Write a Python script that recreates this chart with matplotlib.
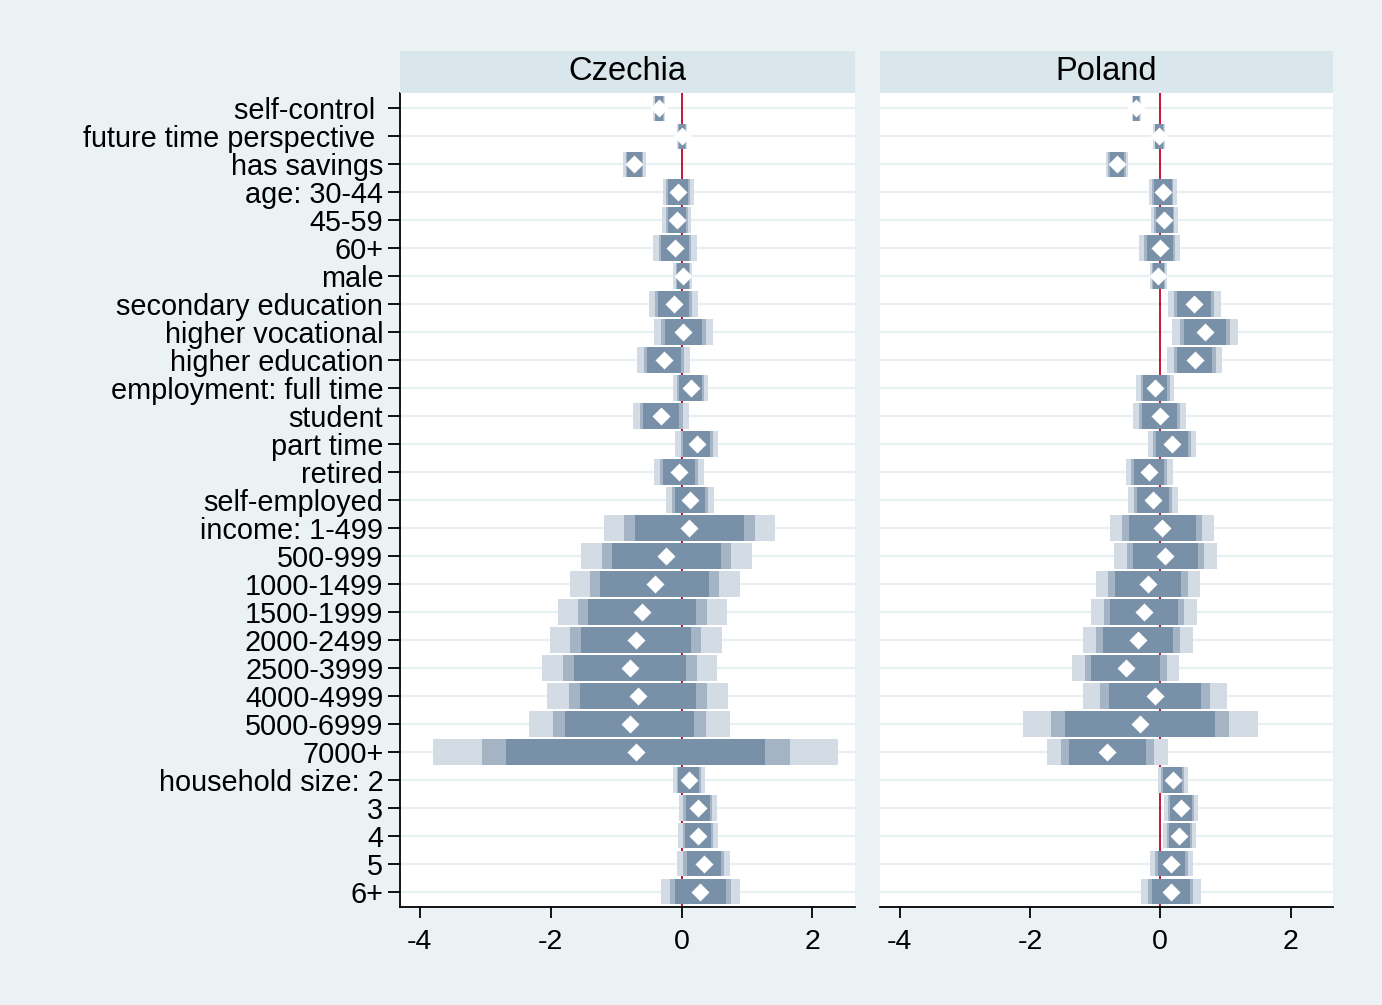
import numpy as np
import matplotlib
matplotlib.use("Agg")
import matplotlib.pyplot as plt
from matplotlib.patches import Rectangle

plt.rcParams['font.family'] = ['Liberation Sans', 'DejaVu Sans']

# row labels, top to bottom
labels = ['self-control ', 'future time perspective ', 'has savings',
          'age: 30-44', '45-59', '60+', 'male',
          'secondary education', 'higher vocational', 'higher education',
          'employment: full time', 'student', 'part time', 'retired',
          'self-employed', 'income: 1-499', '500-999', '1000-1499',
          '1500-1999', '2000-2499', '2500-3999', '4000-4999', '5000-6999',
          '7000+', 'household size: 2', '3', '4', '5', '6+']

countries = ['Czechia', 'Poland']

# point estimates and standard errors
cz_coef = [-0.34, 0.01, -0.72, -0.05, -0.07, -0.10, 0.02, -0.12, 0.03,
           -0.27, 0.14, -0.31, 0.23, -0.04, 0.13, 0.12, -0.23, -0.41,
           -0.60, -0.70, -0.79, -0.67, -0.79, -0.70, 0.11, 0.25, 0.25,
           0.34, 0.29]
cz_se = [0.035, 0.03, 0.068, 0.092, 0.086, 0.128, 0.056, 0.146, 0.175,
         0.158, 0.104, 0.166, 0.125, 0.148, 0.14, 0.508, 0.505, 0.505,
         0.502, 0.511, 0.52, 0.538, 0.597, 1.20, 0.095, 0.113, 0.119,
         0.158, 0.235]

pl_coef = [-0.37, -0.015, -0.665, 0.04, 0.06, -0.01, -0.03, 0.52, 0.68,
           0.53, -0.077, -0.01, 0.18, -0.17, -0.11, 0.03, 0.08, -0.19,
           -0.25, -0.34, -0.53, -0.08, -0.31, -0.81, 0.19, 0.32, 0.29,
           0.17, 0.16]
pl_se = [0.027, 0.036, 0.068, 0.083, 0.08, 0.122, 0.05, 0.157, 0.196,
         0.163, 0.113, 0.16, 0.145, 0.139, 0.148, 0.311, 0.305, 0.311,
         0.314, 0.326, 0.32, 0.43, 0.70, 0.362, 0.089, 0.101, 0.098,
         0.127, 0.178]

# 99 / 95 / 90 percent intervals, widest drawn first
levels = [2.576, 1.96, 1.645]
level_colors = ['#d3dce5', '#a4b4c4', '#7891a9']

xticks = [-4, -2, 0, 2]

bg = '#eaf2f3'
fig = plt.figure(figsize=(13.82, 10.05), dpi=100, facecolor=bg)

W, H = 1382, 1005
panels = [(400, 455), (880, 453)]
top_px, bot_px = 93, 907
head_px = 51

y = np.arange(1, len(labels) + 1)

for k, (name, coef, se) in enumerate(zip(countries, [cz_coef, pl_coef],
                                         [cz_se, pl_se])):
    x0, w = panels[k]
    ax = fig.add_axes([x0 / W, 1 - bot_px / H, w / W, (bot_px - top_px) / H])
    ax.set_facecolor('white')
    coef = np.array(coef)
    se = np.array(se)

    for yy in y:
        ax.axhline(yy, color='#e8f0f2', lw=1.6, zorder=0)
    ax.axvline(0, color='#c41438', lw=1.4, zorder=1)

    for z, c in zip(levels, level_colors):
        ax.barh(y, 2 * z * se, left=coef - z * se, height=0.9, color=c,
                edgecolor='none', zorder=2)
    ax.plot(coef, y, 'D', color='white', ms=9, mec='none', zorder=3)

    ax.set_xlim(-4.3, 2.65)
    ax.set_ylim(len(labels) + 0.54, 0.46)
    ax.set_xticks(xticks)
    ax.set_xticklabels([str(t) for t in xticks], fontsize=20.5)
    ax.tick_params(axis='x', length=8, width=1.3, pad=8, color='black')
    for s in ['top', 'right']:
        ax.spines[s].set_visible(False)
    ax.spines['bottom'].set_linewidth(1.3)
    if k == 0:
        ax.set_yticks(y)
        ax.set_yticklabels(labels, fontsize=20.8)
        ax.tick_params(axis='y', length=9, width=1.3, pad=3)
        ax.spines['left'].set_linewidth(1.3)
    else:
        ax.set_yticks([])
        ax.spines['left'].set_visible(False)

    # panel header strip
    fig.patches.append(Rectangle((x0 / W, 1 - top_px / H), w / W,
                                 (top_px - head_px) / H,
                                 transform=fig.transFigure,
                                 facecolor='#d9e6eb', edgecolor='none'))
    fig.text((x0 + w / 2) / W, 1 - (top_px + head_px) / 2 / H, name,
             ha='center', va='center', fontsize=23.5)

fig.savefig('out.png', dpi=100, facecolor=bg)
